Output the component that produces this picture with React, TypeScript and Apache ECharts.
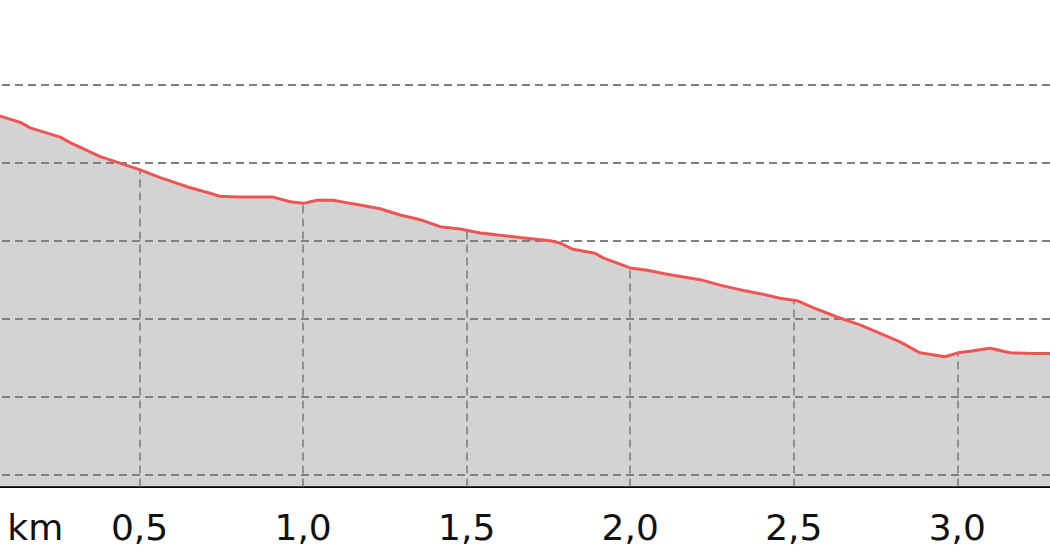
import React, { useEffect, useRef } from "react";
import * as echarts from "echarts";

// distance along the route (km)
const distanceKm = [
  0.0, 0.0743, 0.1354, 0.166, 0.2576, 0.2882, 0.3799, 0.5021, 0.5633, 0.655,
  0.7161, 0.7466, 0.8078, 0.9086, 0.9606, 1.0003, 1.0431, 1.092, 1.144, 1.2357,
  1.2968, 1.3579, 1.419, 1.4802, 1.5413, 1.6024, 1.6635, 1.7552, 1.7858, 1.8255,
  1.8927, 1.9172, 1.9997, 2.0517, 2.1128, 2.2137, 2.2748, 2.3359, 2.3971, 2.4582,
  2.5101, 2.559, 2.6324, 2.7027, 2.7638, 2.8249, 2.886, 2.9624, 3.0022, 3.0388,
  3.1, 3.1611, 3.2314, 3.2833, 3.3,
];

// elevation (relative units, grid step = 10)
const elevation = [
  96.9, 96.0, 95.2, 94.5, 93.3, 92.6, 90.8, 89.1, 88.1, 86.8,
  86.1, 85.7, 85.6, 85.6, 85.0, 84.8, 85.2, 85.2, 84.8, 84.1,
  83.3, 82.7, 81.8, 81.5, 81.0, 80.7, 80.4, 80.0, 79.7, 78.9,
  78.4, 77.8, 76.5, 76.2, 75.7, 75.0, 74.3, 73.7, 73.2, 72.6,
  72.3, 71.4, 70.2, 69.2, 68.1, 67.0, 65.6, 65.1, 65.6, 65.8,
  66.2, 65.6, 65.5, 65.5, 65.5,
];

const xTicks = [0.5, 1.0, 1.5, 2.0, 2.5, 3.0];
const yGridValues = [50, 60, 70, 80, 90, 100];

const Y_MIN = 48.43;
const Y_MAX = 110.92;
const X_MAX = 3.2833;
const SHIFT = 24.3; // 0 km lies this many px left of the page edge

function interp(x: number): number {
  for (let i = 1; i < distanceKm.length; i++) {
    if (x <= distanceKm[i]) {
      const x0 = distanceKm[i - 1], x1 = distanceKm[i];
      const t = (x - x0) / (x1 - x0);
      return elevation[i - 1] + t * (elevation[i] - elevation[i - 1]);
    }
  }
  return elevation[elevation.length - 1];
}

export default function App() {
  const ref = useRef<HTMLDivElement>(null);
  useEffect(() => {
    if (!ref.current) return;
    const chart = echarts.init(ref.current, undefined, { renderer: "svg" });
    const data = distanceKm.map((d, i) => [d, elevation[i]]);
    const gridLine = { color: "#808080", type: [8, 5] as any };
    chart.setOption({
      animation: false,
      backgroundColor: "#ffffff",
      grid: { left: 0, right: 0, top: 0, bottom: 73.5, containLabel: false },
      xAxis: {
        type: "value",
        min: 0,
        max: X_MAX,
        interval: 0.5,
        axisLine: { show: true, onZero: false, lineStyle: { color: "#000000", width: 2 } },
        axisTick: { show: false },
        splitLine: { show: false },
        axisLabel: {
          show: true,
          margin: 40.5,
          verticalAlign: "middle",
          fontFamily: "DejaVu Sans",
          fontSize: 36,
          color: "#111111",
          showMinLabel: false,
          showMaxLabel: false,
          formatter: (v: number) => {
            const r = Math.round(v * 2) / 2;
            if (Math.abs(r - v) > 1e-6 || v < 0.25) return "";
            return v.toFixed(1).replace(".", ",");
          },
        },
      },
      yAxis: {
        type: "value",
        min: Y_MIN,
        max: Y_MAX,
        show: false,
        splitLine: { show: false },
      },
      series: [
        {
          type: "line",
          data,
          showSymbol: false,
          symbol: "none",
          lineStyle: { width: 0, opacity: 0 },
          areaStyle: { color: "#d3d3d3", opacity: 1, origin: "start" },
          z: 1,
          silent: true,
        },
        {
          type: "line",
          data: [],
          z: 2,
          silent: true,
          markLine: {
            silent: true,
            symbol: ["none", "none"],
            label: { show: false },
            z: 2,
            data: [
              ...yGridValues.map((v) => ({
                yAxis: v,
                lineStyle: { ...gridLine, width: 2 },
              })),
              ...xTicks.map((v) => [
                { coord: [v, Y_MIN], lineStyle: { ...gridLine, width: 1.6 } },
                { coord: [v, interp(v)] },
              ]),
            ],
          },
        },
        {
          type: "line",
          data,
          showSymbol: false,
          symbol: "none",
          lineStyle: { color: "#ee5555", width: 3 },
          z: 3,
          silent: true,
        },
      ],
      graphic: [
        {
          type: "text",
          x: 35 + SHIFT,
          y: 527,
          z: 10,
          style: {
            text: "km",
            fontFamily: "DejaVu Sans",
            fontSize: 36,
            fill: "#111111",
            align: "center",
            verticalAlign: "middle",
          },
        },
      ],
    });
    return () => chart.dispose();
  }, []);
  return (
    <div
      ref={ref}
      style={{ position: "fixed", left: -SHIFT, top: 0, width: 1050 + SHIFT, height: 560 }}
    />
  );
}
